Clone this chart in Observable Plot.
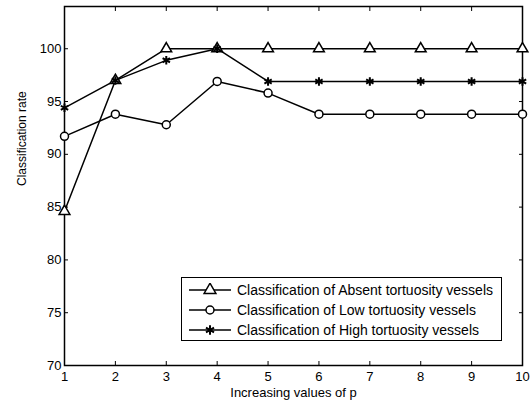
<!DOCTYPE html>
<html><head><meta charset="utf-8">
<script src="https://cdn.jsdelivr.net/npm/d3@7"></script>
<script src="https://cdn.jsdelivr.net/npm/@observablehq/plot@0.6"></script>
<style>
body{margin:0;background:#fff;font-family:"Liberation Sans",Arial,sans-serif;}
#wrap{position:relative;width:531px;height:404px;}
#legend{position:absolute;left:181px;top:277px;width:321px;height:64px;border:1.5px solid #000;background:#fff;font-size:14px;box-sizing:border-box;}
#legend .row{position:absolute;left:6px;height:20px;display:flex;align-items:center;}
#legend svg{margin-right:4px;}
</style></head>
<body><div id="wrap"><div id="chart"></div><div id="legend"></div></div>
<script>
const pValues = [1,2,3,4,5,6,7,8,9,10];
const absent = [84.6,97,100,100,100,100,100,100,100,100];
const low = [91.7,93.8,92.8,96.9,95.8,93.8,93.8,93.8,93.8,93.8];
const high = [94.4,97,98.9,100,96.9,96.9,96.9,96.9,96.9,96.9];
const seriesNames = ["Classification of Absent tortuosity vessels","Classification of Low tortuosity vessels","Classification of High tortuosity vessels"];
const yTicks = [70,75,80,85,90,95,100];

const rows = [];
[absent, low, high].forEach((vals, k) => vals.forEach((v, i) => rows.push({p: pValues[i], v, s: seriesNames[k]})));
const byS = k => rows.filter(d => d.s === seriesNames[k]);

const chart = Plot.plot({
  width: 531, height: 404,
  marginLeft: 64, marginRight: 9, marginTop: 6, marginBottom: 39,
  style: {fontFamily: "Liberation Sans, Arial, sans-serif", fontSize: "13px", color: "#000", background: "#fff"},
  x: {domain: [1, 10]},
  y: {domain: [70, 104]},
  marks: [
    Plot.axisX(pValues, {anchor: "bottom", tickSize: -4, tickPadding: 10, label: null, fontSize: 13}),
    Plot.axisX(pValues, {anchor: "top", tickSize: -4, tickFormat: () => "", label: null}),
    Plot.axisY(yTicks, {anchor: "left", tickSize: -4, tickPadding: 7, label: null, fontSize: 13}),
    Plot.axisY(yTicks, {anchor: "right", tickSize: -4, tickFormat: () => "", label: null}),
    Plot.frame({stroke: "#000", strokeWidth: 1.5}),
    Plot.line(rows, {x: "p", y: "v", z: "s", stroke: "#000", strokeWidth: 1.5}),
    Plot.dot(byS(0), {x: "p", y: "v", symbol: "triangle", r: 4, stroke: "#000", fill: "#fff", strokeWidth: 1.5}),
    Plot.dot(byS(1), {x: "p", y: "v", symbol: "circle", r: 4, stroke: "#000", fill: "#fff", strokeWidth: 1.5}),
    Plot.dot(byS(2), {x: "p", y: "v", symbol: "asterisk", r: 4, stroke: "#000", strokeWidth: 2}),
    Plot.text(["Increasing values of p"], {frameAnchor: "bottom", dy: 31, text: d => d, fontSize: 13}),
    Plot.text(["Classification rate"], {frameAnchor: "left", dx: -42, rotate: -90, text: d => d, fontSize: 12})
  ]
});
document.getElementById("chart").appendChild(chart);

const leg = document.getElementById("legend");
const syms = ["triangle", "circle", "asterisk"];
seriesNames.forEach((name, i) => {
  const row = document.createElement("div");
  row.className = "row";
  row.style.top = (2 + i * 20) + "px";
  const sy = syms[i] === "triangle" ? d3.symbolTriangle : syms[i] === "circle" ? d3.symbolCircle : d3.symbolAsterisk;
  const size = syms[i] === "triangle" ? 60 : syms[i] === "circle" ? 50 : 60;
  const fill = syms[i] === "asterisk" ? "none" : "#fff";
  row.innerHTML = `<svg width="45" height="14"><line x1="1" x2="43" y1="7" y2="7" stroke="#000" stroke-width="1.5"/><path transform="translate(22,7)" d="${d3.symbol(sy, size)()}" fill="${fill}" stroke="#000" stroke-width="${syms[i] === "asterisk" ? 2 : 1.5}"/></svg><span>${name}</span>`;
  leg.appendChild(row);
});
</script></body></html>
